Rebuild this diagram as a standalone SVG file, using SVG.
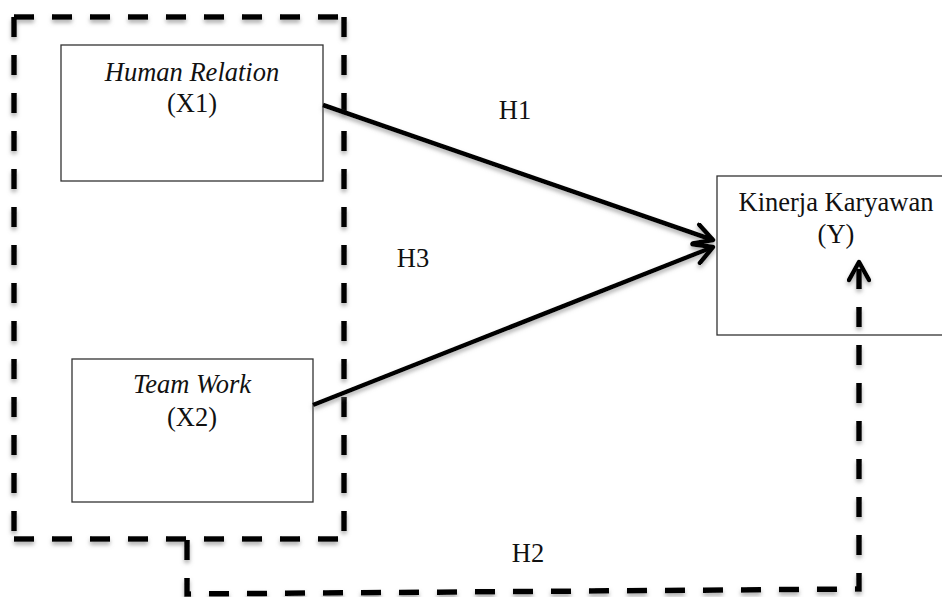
<svg xmlns="http://www.w3.org/2000/svg" width="942" height="597" viewBox="0 0 942 597">
<style>
  .box{fill:#fff;stroke:#333;stroke-width:1.3}
  .t{font-family:"Liberation Serif","Times New Roman",serif;font-size:26.5px;fill:#111;text-anchor:middle}
  .i{font-style:italic}
  .dash{fill:none;stroke:#000;stroke-width:5.5;stroke-dasharray:20 18}
  .arr{fill:none;stroke:#000;stroke-width:4.5}
</style>
<defs>
  <filter id="sh" x="-10%" y="-10%" width="120%" height="130%">
    <feDropShadow dx="0" dy="3" stdDeviation="2" flood-color="#777" flood-opacity="0.6"/>
  </filter>
  <marker id="chev" viewBox="0 0 24 24" refX="21" refY="12" markerWidth="24" markerHeight="24" markerUnits="userSpaceOnUse" orient="auto">
    <path d="M3,2 L21,12 L3,22" fill="none" stroke="#000" stroke-width="4.5" stroke-linecap="round" stroke-linejoin="round" stroke-dasharray="none"/>
  </marker>
</defs>
<rect width="942" height="597" fill="#fff"/>

<g id="group-x" filter="url(#sh)">
  <path class="dash" d="M14,17 H344"/>
  <path class="dash" d="M14,17 V548"/>
  <path class="dash" d="M344,17 V548"/>
  <path class="dash" d="M14,539 H344"/>
</g>

<g id="node-x1">
  <rect class="box" x="61" y="45" width="262" height="136"/>
  <text class="t i" x="192" y="81">Human Relation</text>
  <text class="t" x="192" y="112">(X1)</text>
</g>

<g id="node-x2">
  <rect class="box" x="72" y="359" width="241" height="143"/>
  <text class="t i" x="192" y="393">Team Work</text>
  <text class="t" x="192" y="426">(X2)</text>
</g>

<g id="node-y">
  <rect class="box" x="717" y="176" width="240" height="159"/>
  <text class="t" x="836" y="211">Kinerja Karyawan</text>
  <text class="t" x="836" y="243">(Y)</text>
</g>

<g id="connectors">
  <g filter="url(#sh)">
    <path class="arr" d="M323,105 L713,240" marker-end="url(#chev)"/>
    <path class="arr" d="M313,405 L713,247" marker-end="url(#chev)"/>
    <path class="dash" d="M187,540 V594 L859,589 V262" marker-end="url(#chev)"/>
  </g>
  <text class="t" x="515" y="119">H1</text>
  <text class="t" x="413" y="267">H3</text>
  <text class="t" x="528" y="562">H2</text>
</g>
</svg>
